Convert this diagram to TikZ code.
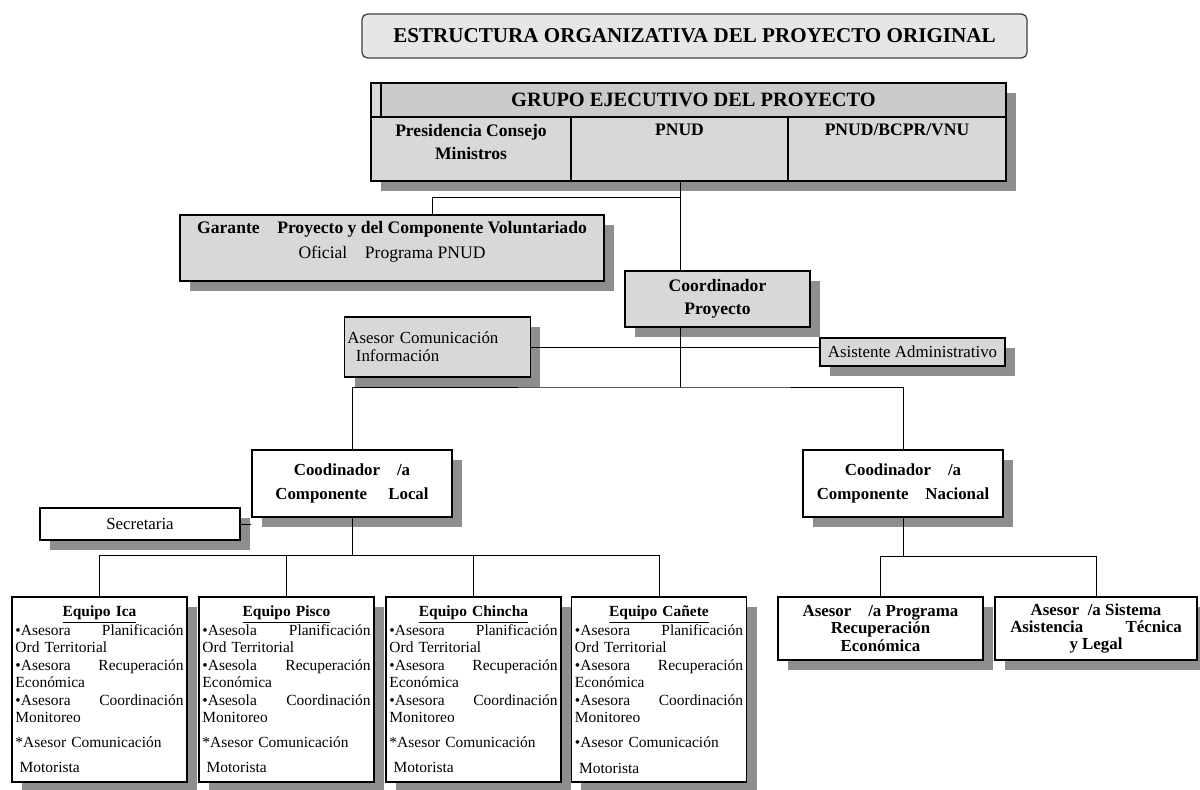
\documentclass[tikz,border=0pt]{standalone}
\usepackage{fontspec}
\setmainfont{Liberation Serif}
\usetikzlibrary{shadows}
\setlength{\parindent}{0pt}

\definecolor{boxgray}{HTML}{D8D8D8}
\definecolor{hdrgray}{HTML}{CBCBCB}
\definecolor{titlegray}{HTML}{E6E6E6}
\definecolor{shadegray}{HTML}{8E8E8E}

% contenido de cada equipo: nombre, asesora, marca
\newcommand{\equipo}[3]{%
  {\centering\fontsize{11}{13}\selectfont\bfseries\underline{#1}\par}
  \vspace{1pt}
  •#2\hfill Planificación\\
  Ord Territorial\\
  •#2\hfill Recuperación\\
  Económica\\
  •#2\hfill Coordinación\\
  Monitoreo\\[5pt]
  #3Asesor Comunicación\\[6pt]
  \hspace*{3pt}Motorista}

\begin{document}
\begin{tikzpicture}[x=0.025cm, y=-0.025cm,
	every node/.style={draw, line width=0.9pt, fill=boxgray, inner sep=2pt, align=center},
	shade/.style={drop shadow={shadow xshift=0.25cm, shadow yshift=-0.25cm, fill=shadegray, opacity=1}},
	plain/.style={fill=white},
	bold/.style={font=\fontsize{12.5}{16.5}\selectfont\bfseries},
	reg/.style={font=\fontsize{12}{13}\selectfont},
	celltext/.style={draw=none, fill=none, anchor=north, yshift=-3pt, bold},
	team/.style={plain, shade, minimum width=4.375cm, minimum height=4.625cm, text width=4.2cm, align=left, font=\fontsize{11}{12.4}\selectfont},
	conn/.style={line width=0.7pt}]
	
	\useasboundingbox (0,0) rectangle (1200,789);
	
	\node[fill=titlegray, draw=black!75, rounded corners=4pt, minimum width=16.625cm, minimum height=1.1cm, font=\fontsize{15}{16}\selectfont\bfseries] (title) at (694.5,36) {ESTRUCTURA ORGANIZATIVA DEL PROYECTO ORIGINAL};
	
	% grupo ejecutivo
	\node[shade, minimum width=15.875cm, minimum height=2.45cm] (exec) at (688.5,132) {};
	\node[fill=hdrgray, minimum width=15.625cm, minimum height=0.85cm, font=\fontsize{14.5}{16}\selectfont\bfseries] (hdr) at (693.5,100) {GRUPO EJECUTIVO DEL PROYECTO};
	\node[minimum width=5cm, minimum height=1.6cm, label={[celltext]north:{Presidencia Consejo\\Ministros}}] (pres) at (471,149) {};
	\node[minimum width=5.425cm, minimum height=1.6cm, label={[celltext]north:{PNUD}}] (pnud) at (679.5,149) {};
	\node[minimum width=5.45cm, minimum height=1.6cm, label={[celltext]north:{PNUD/BCPR/VNU}}] (bcpr) at (897,149) {};
	
	\node[shade, minimum width=10.6cm, minimum height=1.65cm, font=\fontsize{12.5}{17.5}\selectfont] (garante) at (392,248) {\textbf{Garante\quad Proyecto y del Componente Voluntariado}\\Oficial\quad Programa PNUD\hspace*{2em}\\[-6pt]};
	\node[shade, bold, minimum width=4.625cm, minimum height=1.4cm] (coord) at (717.5,299) {Coordinador\\Proyecto};
	\node[shade, reg, text width=4.5cm, align=left, minimum height=1.5cm] (asesor) at (437.5,347) {Asesor Comunicación\\\hspace*{6pt}Información\\[2pt]};
	\node[shade, reg, inner sep=0pt, minimum width=4.625cm, minimum height=0.7cm] (asist) at (912.5,352) {Asistente Administrativo};
	
	\node[plain, shade, bold, font=\fontsize{12}{17}\selectfont\bfseries, minimum width=5cm, minimum height=1.675cm] (local) at (352,483.5) {Coodinador\quad /a\\Componente\quad\ Local};
	\node[plain, shade, reg, minimum width=5cm, minimum height=0.8cm] (secr) at (140,524) {Secretaria};
	\node[plain, shade, bold, font=\fontsize{12}{17}\selectfont\bfseries, minimum width=5cm, minimum height=1.675cm] (nat) at (903,483.5) {Coodinador\quad /a\\Componente\quad Nacional};
	
	% equipos locales
	\node[team] (ica) at (99.5,689.5) {\equipo{Equipo Ica}{Asesora}{*}};
	\node[team] (pisco) at (286.5,689.5) {\equipo{Equipo Pisco}{Asesola}{*}};
	\node[team] (chincha) at (473.5,689.5) {\equipo{Equipo Chincha}{Asesora}{*}};
	\node[team] (canete) at (659,689.5) {\equipo{Equipo Cañete}{Asesora}{•}};
	
	\node[plain, shade, font=\fontsize{12}{12.4}\selectfont\bfseries, minimum width=5.125cm, minimum height=1.575cm] (prog) at (880.5,628.5) {Asesor\quad /a Programa\\Recuperación\\Económica};
	\node[plain, shade, font=\fontsize{12}{12.4}\selectfont\bfseries, minimum width=5.05cm, minimum height=1.575cm] (sist) at (1096,628.5) {Asesor\ \ /a Sistema\\Asistencia\qquad\ \ Técnica\\y Legal};
	
	\coordinate (spine) at (680,197);
	\coordinate (gdrop) at (432,197);
	\coordinate (split) at (680,387);
	\coordinate (lbar) at (352,555);
	\coordinate (nbar) at (903,556);
	
	\draw[conn] (exec.south -| spine) -- (coord.north -| spine);
	\draw[conn] (spine) -- (gdrop) -- (garante.north -| gdrop);
	\draw[conn] (asesor.east) -- (asesor.east -| asist.west);
	\draw[conn] (coord.south -| split) -- (split);
	\draw[conn] (local.north) |- (split) -| (nat.north);
	\draw[conn] (secr.east) -- (secr.east -| local.west);
	\draw[conn] (local.south) -- (lbar);
	\draw[conn] (ica.north) |- (lbar) -| (canete.north);
	\foreach \t in {pisco, chincha}
		\draw[conn] (\t.north) -- (\t.north |- lbar);
	\draw[conn] (nat.south) -- (nbar);
	\draw[conn] (prog.north) |- (nbar) -| (sist.north);
	
\end{tikzpicture}
\end{document}
